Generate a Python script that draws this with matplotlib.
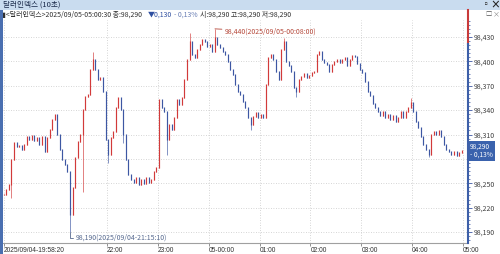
import numpy as np
import matplotlib
matplotlib.use("Agg")
import matplotlib.pyplot as plt
from matplotlib.patches import Rectangle
from matplotlib.lines import Line2D

plt.rcParams['font.family'] = ['Noto Sans CJK KR', 'DejaVu Sans']

# 3-minute sampled closes of the 10s chart, starting 2025/09/04 19:58:20
closes = [98.236, 98.242, 98.248, 98.279, 98.300, 98.295, 98.296, 98.291, 98.297, 98.307,
          98.303, 98.308, 98.302, 98.306, 98.297, 98.307, 98.288, 98.306, 98.316, 98.328,
          98.334, 98.309, 98.291, 98.279, 98.272, 98.264, 98.211, 98.244, 98.281, 98.301,
          98.309, 98.340, 98.356, 98.359, 98.389, 98.402, 98.389, 98.377, 98.380, 98.362,
          98.303, 98.285, 98.306, 98.313, 98.343, 98.355, 98.340, 98.309, 98.279, 98.260,
          98.254, 98.250, 98.256, 98.248, 98.254, 98.249, 98.256, 98.250, 98.254, 98.264,
          98.269, 98.352, 98.343, 98.338, 98.303, 98.322, 98.316, 98.330, 98.352, 98.346,
          98.355, 98.377, 98.402, 98.424, 98.408, 98.404, 98.414, 98.420, 98.426, 98.424,
          98.418, 98.420, 98.412, 98.429, 98.420, 98.416, 98.412, 98.408, 98.399, 98.389,
          98.383, 98.371, 98.362, 98.359, 98.350, 98.343, 98.330, 98.322, 98.332, 98.336,
          98.330, 98.334, 98.330, 98.371, 98.404, 98.408, 98.402, 98.387, 98.377, 98.414,
          98.424, 98.399, 98.394, 98.387, 98.367, 98.362, 98.377, 98.381, 98.384, 98.380,
          98.382, 98.386, 98.387, 98.408, 98.412, 98.402, 98.398, 98.396, 98.387, 98.396,
          98.399, 98.402, 98.398, 98.402, 98.404, 98.394, 98.402, 98.407, 98.405, 98.397,
          98.389, 98.386, 98.375, 98.362, 98.357, 98.348, 98.343, 98.338, 98.333, 98.338,
          98.330, 98.334, 98.328, 98.333, 98.325, 98.330, 98.338, 98.330, 98.338, 98.343,
          98.349, 98.338, 98.325, 98.318, 98.307, 98.297, 98.291, 98.285, 98.309, 98.313,
          98.309, 98.314, 98.307, 98.297, 98.291, 98.288, 98.285, 98.288, 98.284, 98.287,
          98.290]
bar_minutes = 3

# extra wick extremes (bar index, price)
wick_idx = [3, 26, 31, 35, 41, 47, 64, 73, 83, 97, 110, 115, 160, 167]
wick_val = [98.232, 98.190, 98.239, 98.412, 98.275, 98.300, 98.285, 98.435, 98.440, 98.316,
            98.429, 98.356, 98.355, 98.282]

ytick_vals = [98.190, 98.220, 98.250, 98.280, 98.310, 98.340, 98.370, 98.400, 98.430]
xtick_min = [0, 121.67, 181.67, 241.67, 301.67, 361.67, 421.67, 481.67, 541.67]
xtick_lab = ['2025/09/04-19:58:20', '22:00', '23:00', '05-00:00', '01:00', '02:00',
             '03:00', '04:00', '05:00']

UP = '#d23a3a'
DN = '#3d57a3'

fig = plt.figure(figsize=(5, 2.54), dpi=100)
W, H = 500, 254

def fy(py):
    return 1 - py / H

ax = fig.add_axes([3 / W, 11 / H, 465 / W, 223 / H])

t = np.arange(len(closes)) * bar_minutes
c = np.array(closes)
o = np.r_[c[0], c[:-1]]
hi = np.maximum(o, c)
lo = np.minimum(o, c)
for i, v in zip(wick_idx, wick_val):
    hi[i] = max(hi[i], v)
    lo[i] = min(lo[i], v)
cols = [UP if cc >= oo else DN for oo, cc in zip(o, c)]
body_lo = np.minimum(o, c)
body_hi = np.maximum(o, c) + 0.0012
ax.vlines(t, lo, hi, colors=cols, lw=0.45, zorder=3)
ax.vlines(t, body_lo, body_hi, colors=cols, lw=0.85, zorder=3)

ax.set_xlim(-1, 547.5)
ax.set_ylim(98.1765, 98.4509)

last = closes[-1]
ax.set_yticks(ytick_vals)
# the label at the current price sits under the price box
ax.set_yticklabels(["" if abs(v - last) < 0.015 else f"{v:.3f}".replace('.', ',')
                    for v in ytick_vals])
ax.yaxis.tick_right()
ax.set_yticks(np.arange(98.180, 98.451, 0.005), minor=True)
ax.tick_params(axis='y', which='major', length=3, width=0.6, color='#3d57a3',
               labelsize=5, labelcolor='#404040', pad=1)
ax.tick_params(axis='y', which='minor', length=1.5, width=0.5, color='#3d57a3')

ax.set_xticks(xtick_min)
ax.set_xticklabels(xtick_lab)
for lab in ax.get_xticklabels():
    lab.set_horizontalalignment('left')
    lab.set_family(['Liberation Sans', 'DejaVu Sans'])
ax.tick_params(axis='x', length=2.5, width=0.6, color='#808080', labelsize=4.8,
               labelcolor='#303030', pad=0.5)

ax.grid(True, which='major', color='#c8c8c8', lw=0.6, ls=(0, (1, 2)))
for s in ['top', 'left', 'right']:
    ax.spines[s].set_visible(False)
ax.spines['bottom'].set_color('#a0a0a0')
ax.spines['bottom'].set_linewidth(0.8)

# max / min annotations
imax = int(np.argmax(hi))
ax.annotate(f"{hi[imax]:.3f}(2025/09/05-00:08:00)".replace('.', ','),
            xy=(t[imax], hi[imax]), xytext=(7, -2), textcoords='offset points',
            fontsize=5, color='#b5483a', va='center', ha='left',
            arrowprops=dict(arrowstyle='-', color='#b5483a', lw=0.6, shrinkA=0, shrinkB=0))
imin = int(np.argmin(lo))
ax.annotate(f"{lo[imin]:.3f}(2025/09/04-21:15:10)".replace('.', ','),
            xy=(t[imin], lo[imin]), xytext=(4, -4), textcoords='offset points',
            fontsize=5, color='#56698f', va='center', ha='left',
            arrowprops=dict(arrowstyle='-', color='#56698f', lw=0.6, shrinkA=0, shrinkB=0,
                            connectionstyle='angle,angleA=0,angleB=90,rad=0'))

# current price box
ax.annotate(f"{last:.3f}".replace('.', ',') + "\n- 0,13%", xy=(1.0, last),
            xycoords=('axes fraction', 'data'), xytext=(1.5, 0), textcoords='offset points',
            fontsize=4.8, color='white', ha='left', va='center', linespacing=0.95,
            bbox=dict(boxstyle='square,pad=0.3', fc='#3a62ad', ec='none'), zorder=10,
            annotation_clip=False)

# title bar and frame pieces
fig.patches.append(Rectangle((0, fy(9.5)), 1, 9.5 / H, transform=fig.transFigure,
                             fc='#c9dcef', ec='none', zorder=0))
fig.patches.append(Rectangle((0, 0), 2.5 / W, fy(9.5), transform=fig.transFigure,
                             fc='#4a6fb0', ec='none', zorder=5))
fig.lines.append(Line2D([468 / W, 468 / W], [fy(9.5), fy(44)], transform=fig.transFigure,
                        color='#c83a3a', lw=1.5, zorder=6))
fig.lines.append(Line2D([468 / W, 468 / W], [fy(44), fy(243)], transform=fig.transFigure,
                        color='#3d5fa8', lw=1.5, zorder=6))
fig.text(3 / W, fy(4.8), "달러인덱스 (10초)", fontsize=5.5, color='#1a2a4a', va='center')
fig.text(486 / W, fy(4.8), "▫", fontsize=6, color='#333333', va='center', ha='center')
fig.text(495 / W, fy(4.8), "×", fontsize=7, color='#222222', va='center', ha='center',
         fontweight='bold')
fig.text(489 / W, fy(14), "□", fontsize=4.5, color='#555555', va='center', ha='center')
fig.text(496 / W, fy(14), "×", fontsize=5, color='#888888', va='center', ha='center')

# header line
hy = fy(14.5)
fig.text(2 / W, hy, "▮<달러인덱스>2025/09/05-05:00:30 종:98,290", fontsize=5,
         color='#303030', va='center')
fig.text(148 / W, hy, "▼0,130", fontsize=5, color='#2f4fa0', va='center')
fig.text(174 / W, hy, "- 0,13%", fontsize=5, color='#6a7fb5', va='center')
fig.text(200 / W, hy, "시:98,290 고:98,290 저:98,290", fontsize=5, color='#303030',
         va='center')

fig.savefig("out.png", dpi=100)
